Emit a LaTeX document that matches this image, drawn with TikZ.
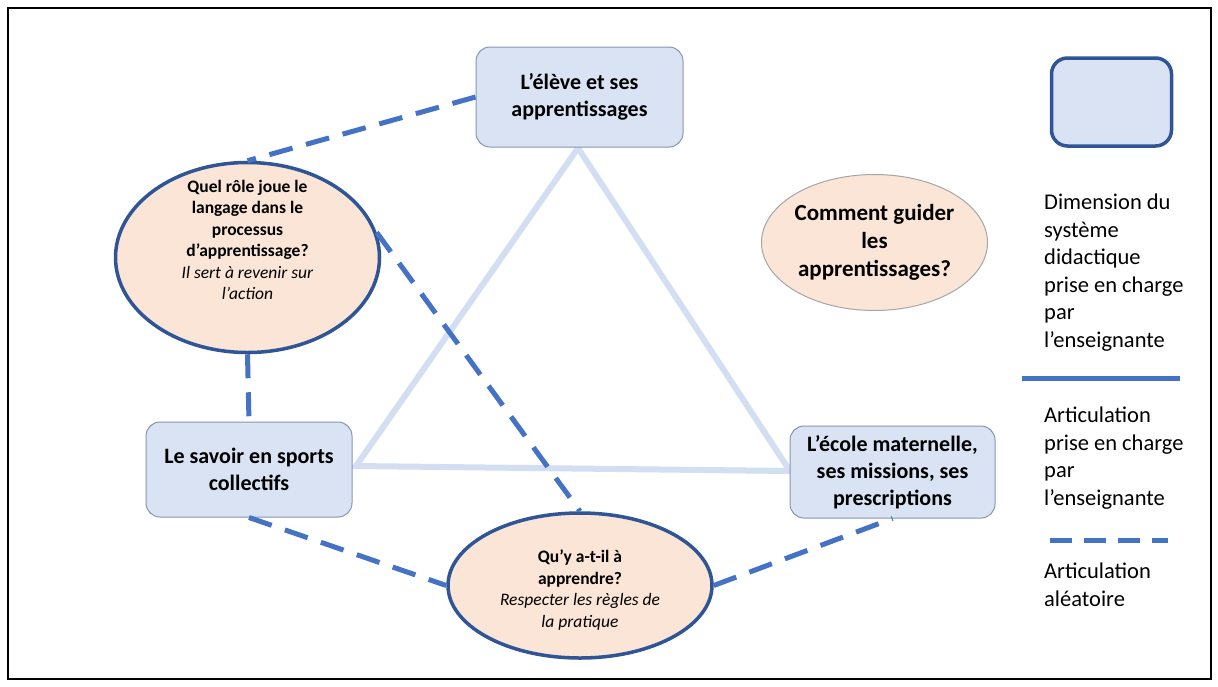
\documentclass[tikz,border=0pt]{standalone}
\usepackage{fontspec}
\setmainfont{Carlito}
\usetikzlibrary{shapes.geometric}
\definecolor{boxfill}{HTML}{DAE3F3}
\definecolor{boxline}{HTML}{8497B0}
\definecolor{darkline}{HTML}{2F5597}
\definecolor{ellfill}{HTML}{FBE5D6}
\definecolor{dashcol}{HTML}{4472C4}
\definecolor{tricol}{HTML}{D3DEF2}
\tikzset{
  dimbox/.style={draw=boxline, line width=1pt, fill=boxfill, rounded corners=14pt, align=center, inner sep=0pt, font=\fontsize{22}{27}\selectfont\bfseries},
  qell/.style={ellipse, draw=darkline, line width=3.5pt, fill=ellfill, inner sep=0pt},
  qtext/.style={align=center, inner sep=0pt, font=\fontsize{17.5}{21.5}\selectfont},
  randlink/.style={draw=dashcol, line width=5pt, dash pattern=on 24pt off 14pt},
  triline/.style={draw=tricol, line width=6pt, line join=miter},
  legtext/.style={anchor=north west, align=left, inner sep=0pt, font=\fontsize{22.5}{27.5}\selectfont}
}
\begin{document}
\begin{tikzpicture}[x=1pt,y=-1pt]
\useasboundingbox (0,0) rectangle (1218,686);
\fill[white] (0,0) rectangle (1218,686);
\draw[black, line width=1.2pt] (8,8) rectangle (1211,679);

% triangle
\coordinate (tA) at (578,148);
\coordinate (tB) at (356,466);
\coordinate (tC) at (790,471);
\draw[triline] (tA) -- (tB) -- (tC) -- cycle;

% nodes
\node[dimbox, minimum width=207pt, minimum height=100pt] (eleve) at (579.5,97) {L’élève et ses\\apprentissages};
\node[dimbox, minimum width=206pt, minimum height=95pt] (savoir) at (249,469.5) {Le savoir en sports\\collectifs};
\node[dimbox, minimum width=205pt, minimum height=92pt] (ecole) at (892.5,472) {L’école maternelle,\\ses missions, ses\\prescriptions};

\node[qell, minimum width=264pt, minimum height=190pt] (lang) at (247.5,257.5) {};
\node[qtext] (langtext) at (247.5,240) {\textbf{Quel rôle joue le}\\\textbf{langage dans le}\\\textbf{processus}\\\textbf{d’apprentissage?}\\\textit{Il sert à revenir sur}\\\textit{l’action}};
\node[qell, minimum width=264pt, minimum height=145pt] (quoi) at (580,585.5) {};
\node[qtext] (quoitext) at (580,590) {\textbf{Qu’y a-t-il à}\\\textbf{apprendre?}\\\textit{Respecter les règles de}\\\textit{la pratique}};
\node[ellipse, draw=black!35, line width=1pt, fill=ellfill, align=center, inner sep=0pt, minimum width=222pt, minimum height=136pt, font=\fontsize{23}{28}\selectfont\bfseries] (guider) at (874.5,242.5) {Comment guider\\les\\apprentissages?};

% dashed links
\draw[randlink] (eleve.west) -- (lang.north);
\draw[randlink] (lang.11) -- (quoi.north);
\draw[randlink] (lang.south) -- (savoir.north);
\draw[randlink] (savoir.south) -- (quoi.west);
\draw[randlink] (quoi.east) -- (ecole.south);

% legend
\node[draw=darkline, line width=3.5pt, fill=boxfill, rounded corners=16pt, minimum width=120pt, minimum height=88pt, inner sep=0pt] (legbox) at (1111.5,102) {};
\node[legtext] (leg1) at (1044,194) {Dimension du\\système\\didactique\\prise en charge\\par\\l’enseignante};
\coordinate (s1) at (1022,378);
\coordinate (s2) at (1180,378);
\draw[draw=dashcol, line width=5pt] (s1) -- (s2);
\node[legtext] (leg2) at (1044,407) {Articulation\\prise en charge\\par\\l’enseignante};
\coordinate (d1) at (1050,540);
\coordinate (d2) at (1168,540);
\draw[draw=dashcol, line width=5pt, dash pattern=on 22pt off 12pt] (d1) -- (d2);
\node[legtext] (leg3) at (1044,563) {Articulation\\aléatoire};
\end{tikzpicture}
\end{document}
